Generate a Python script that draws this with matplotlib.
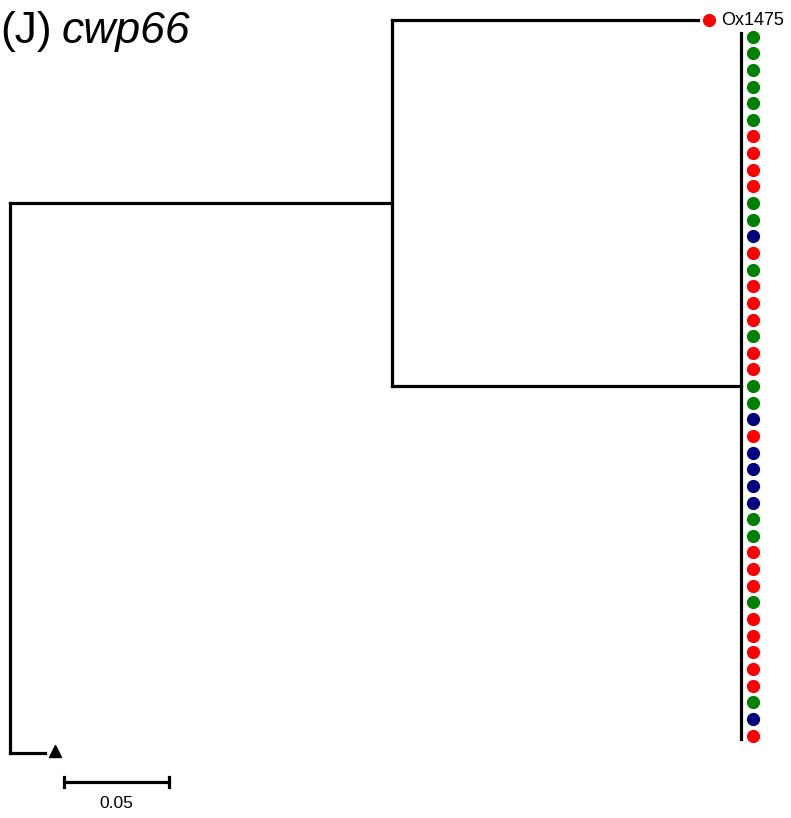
import matplotlib.pyplot as plt
import numpy as np

# --- tree data (branch lengths in substitutions/site) ---
root_to_node = 0.1821
node_to_ox1475 = 0.1455
node_to_clade = 0.1660
root_to_collapsed = 0.0167
scale_len = 0.05

single_tip = "Ox1475"
single_color = "R"
# tip colours of the big zero-length clade, top to bottom
clade_colors = list("GGGGGGRRRRGGBRGRRRGRRGGBRBBBBGGRRRGRRRRRGBR")

palette = {"R": "#ff0000", "G": "#008000", "B": "#000080"}

ppu = 2100.0  # pixels per unit branch length
fig = plt.figure(figsize=(7.91, 8.18), dpi=100)
ax = fig.add_axes([0, 0, 1, 1])
ax.axis("off")

lw = 2.3
n_clade = len(clade_colors)
clade_rows = np.arange(1, n_clade + 1)
clade_mid = clade_rows.mean()
tri_row = n_clade + 1.06

node_x = root_to_node
node_y = (0 + clade_mid) / 2

# root vertical + branches
ax.plot([0, 0], [node_y, tri_row], color="k", lw=lw, solid_capstyle="projecting")
ax.plot([0, root_to_node], [node_y, node_y], color="k", lw=lw)
ax.plot([0, root_to_collapsed], [tri_row, tri_row], color="k", lw=lw)
ax.plot(root_to_collapsed + 10 / ppu, tri_row - 0.15, marker="^", color="k", ms=9)

# internal node
ax.plot([node_x, node_x], [0, clade_mid], color="k", lw=lw, solid_capstyle="projecting")
ox_end = node_x + node_to_ox1475
ax.plot([node_x, ox_end], [0, 0], color="k", lw=lw)
cl_end = node_x + node_to_clade
ax.plot([node_x, cl_end], [clade_mid, clade_mid], color="k", lw=lw)
ax.plot([cl_end, cl_end], [clade_rows[0] - 0.22, clade_rows[-1] + 0.2], color="k", lw=lw)

# tip markers
ax.plot(ox_end + 11 / ppu, 0, "o", color=palette[single_color], ms=9.5, mec="none")
ax.text(ox_end + 23 / ppu, 0, single_tip, fontsize=13, va="center", ha="left",
        family="Liberation Sans")
for r, c in zip(clade_rows, clade_colors):
    ax.plot(cl_end + 12 / ppu, r, "o", color=palette[c], ms=9.5, mec="none")

# scale bar
sb_x0 = 54 / ppu
sb_y = tri_row + 1.75
ax.plot([sb_x0, sb_x0 + scale_len], [sb_y, sb_y], color="k", lw=lw)
for xx in (sb_x0, sb_x0 + scale_len):
    ax.plot([xx, xx], [sb_y - 0.3, sb_y + 0.3], color="k", lw=lw)
ax.text(sb_x0 + scale_len / 2, sb_y + 1.25, f"{scale_len:.2f}", fontsize=12.5,
        ha="center", va="center", family="Liberation Sans")

ax.set_xlim(-10 / ppu, 781 / ppu)
row_px = 16.64
ax.set_ylim((818 - 20) / row_px, -20 / row_px)

# panel title
fig.text(0.0, 1 - 43 / 818, "(J)", fontsize=32, va="baseline", ha="left",
         family="Liberation Sans")
fig.text(62 / 791, 1 - 43 / 818, "cwp66", fontsize=32, va="baseline", ha="left",
         style="italic", family="Liberation Sans")

plt.savefig("out.png", dpi=100)
